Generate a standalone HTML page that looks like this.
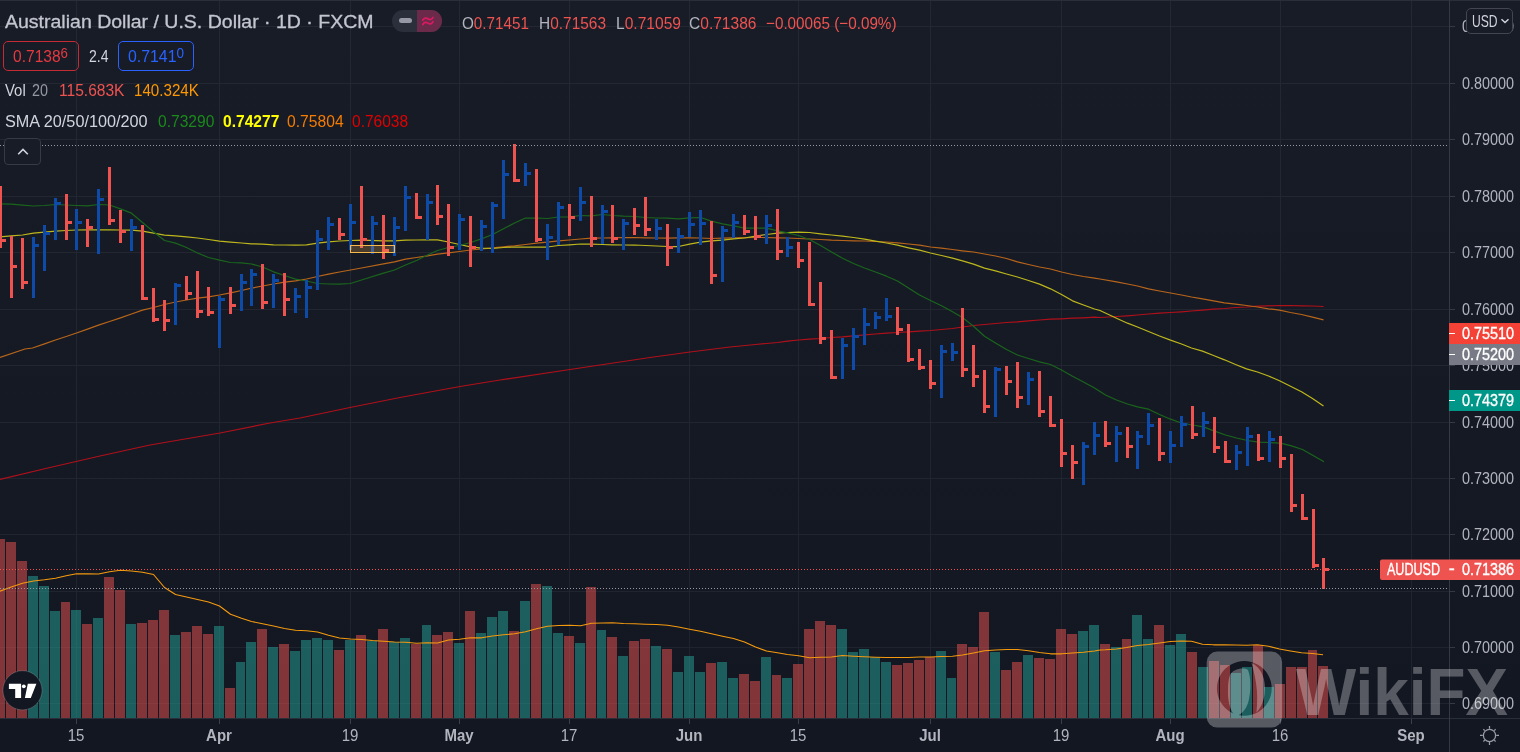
<!DOCTYPE html>
<html><head><meta charset="utf-8"><title>AUDUSD chart</title>
<style>
html,body{margin:0;padding:0;background:#131722;}
body{width:1520px;height:752px;overflow:hidden;position:relative;font-family:"Liberation Sans",sans-serif;}
#chart{position:absolute;left:0;top:0;width:1520px;height:752px;display:block}
.t{position:absolute;white-space:nowrap;line-height:1;transform-origin:0 0;}
</style></head><body>

<svg id="chart" width="1520" height="752" viewBox="0 0 1520 752">
<defs>
<linearGradient id="bg" x1="0" y1="0" x2="0" y2="1"><stop offset="0" stop-color="#181c27"/><stop offset="1" stop-color="#131722"/></linearGradient>
<clipPath id="pane"><rect x="0" y="0" width="1449" height="718"/></clipPath>
</defs>
<rect x="0" y="0" width="1520" height="718" fill="url(#bg)"/>
<rect x="0" y="718" width="1520" height="34" fill="#131722"/>
<path d="M0 26.5H1449M0 83.5H1449M0 139.5H1449M0 196.5H1449M0 252.5H1449M0 309.5H1449M0 365.5H1449M0 422.5H1449M0 478.5H1449M0 534.5H1449M0 591.5H1449M0 647.5H1449M0 703.5H1449M76.5 0V723M219.5 0V723M350.5 0V723M459.5 0V723M569.5 0V723M689.5 0V723M798.5 0V723M930.5 0V723M1061.5 0V723M1170.5 0V723M1280.5 0V723M1411.5 0V723" stroke="rgba(240,243,250,0.06)" stroke-width="1" fill="none" shape-rendering="crispEdges"/>
<path d="M76.5 718V724M219.5 718V724M350.5 718V724M459.5 718V724M569.5 718V724M689.5 718V724M798.5 718V724M930.5 718V724M1061.5 718V724M1170.5 718V724M1280.5 718V724M1411.5 718V724" stroke="#3a3e4a" stroke-width="1" fill="none" shape-rendering="crispEdges"/>
<path d="M0 0.5H1520M0 718.5H1520" stroke="#2a2e39" stroke-width="1" fill="none" shape-rendering="crispEdges"/>
<path d="M1449.5 0V752M1450 26.5H1455M1450 83.5H1455M1450 139.5H1455M1450 196.5H1455M1450 252.5H1455M1450 309.5H1455M1450 365.5H1455M1450 422.5H1455M1450 478.5H1455M1450 534.5H1455M1450 591.5H1455M1450 647.5H1455M1450 703.5H1455" stroke="#353945" stroke-width="1" fill="none" shape-rendering="crispEdges"/>
<g clip-path="url(#pane)">
<path d="M-5 539H5V718H-5ZM6 542H16V718H6ZM17 561H27V718H17ZM61 602H70V718H61ZM82 624H92V718H82ZM104 577H114V718H104ZM115 590H125V718H115ZM137 623H147V718H137ZM148 620H158V718H148ZM159 610H169V718H159ZM181 632H191V718H181ZM192 626H202V718H192ZM203 634H213V718H203ZM225 688H235V718H225ZM257 629H267V718H257ZM279 644H289V718H279ZM334 650H344V718H334ZM356 635H366V718H356ZM378 629H388V718H378ZM411 644H421V718H411ZM432 635H442V718H432ZM443 632H453V718H443ZM465 611H475V718H465ZM509 631H519V718H509ZM531 584H541V718H531ZM564 636H574V718H564ZM586 587H596V718H586ZM607 637H617V718H607ZM629 641H639V718H629ZM640 639H650V718H640ZM662 649H672V718H662ZM706 663H716V718H706ZM739 674H749V718H739ZM750 681H760V718H750ZM772 675H781V718H772ZM793 664H803V718H793ZM804 629H814V718H804ZM815 621H825V718H815ZM826 625H836V718H826ZM892 665H902V718H892ZM903 663H913V718H903ZM914 660H924V718H914ZM925 657H935V718H925ZM957 644H967V718H957ZM968 647H978V718H968ZM979 612H989V718H979ZM1001 670H1011V718H1001ZM1012 662H1022V718H1012ZM1034 658H1044V718H1034ZM1045 659H1055V718H1045ZM1056 629H1066V718H1056ZM1067 634H1077V718H1067ZM1100 644H1110V718H1100ZM1122 639H1131V718H1122ZM1154 625H1164V718H1154ZM1187 652H1197V718H1187ZM1209 661H1219V718H1209ZM1220 665H1230V718H1220ZM1253 645H1263V718H1253ZM1275 684H1285V718H1275ZM1286 667H1296V718H1286ZM1297 667H1307V718H1297ZM1308 650H1317V718H1308ZM1318 666H1328V718H1318Z" fill="rgba(239,83,80,0.5)" shape-rendering="crispEdges"/>
<path d="M28 576H38V718H28ZM39 586H49V718H39ZM50 611H60V718H50ZM71 610H81V718H71ZM93 618H103V718H93ZM126 624H136V718H126ZM170 635H180V718H170ZM214 626H224V718H214ZM236 662H245V718H236ZM246 642H256V718H246ZM268 647H278V718H268ZM290 651H300V718H290ZM301 640H311V718H301ZM312 638H322V718H312ZM323 640H333V718H323ZM345 640H355V718H345ZM367 641H377V718H367ZM389 642H399V718H389ZM400 638H410V718H400ZM422 625H431V718H422ZM454 643H464V718H454ZM476 633H486V718H476ZM487 617H497V718H487ZM498 611H508V718H498ZM520 601H530V718H520ZM542 586H552V718H542ZM553 633H563V718H553ZM575 643H585V718H575ZM597 630H606V718H597ZM618 656H628V718H618ZM651 646H661V718H651ZM673 672H683V718H673ZM684 656H694V718H684ZM695 672H705V718H695ZM717 662H727V718H717ZM728 678H738V718H728ZM761 657H771V718H761ZM782 678H792V718H782ZM837 629H847V718H837ZM848 652H858V718H848ZM859 649H869V718H859ZM870 657H880V718H870ZM881 662H891V718H881ZM936 651H946V718H936ZM947 678H956V718H947ZM990 652H1000V718H990ZM1023 655H1033V718H1023ZM1078 631H1088V718H1078ZM1089 625H1099V718H1089ZM1111 647H1121V718H1111ZM1132 615H1142V718H1132ZM1143 639H1153V718H1143ZM1165 645H1175V718H1165ZM1176 634H1186V718H1176ZM1198 667H1208V718H1198ZM1231 673H1241V718H1231ZM1242 667H1252V718H1242ZM1264 687H1274V718H1264Z" fill="rgba(38,166,154,0.5)" shape-rendering="crispEdges"/>
<path d="M0.0 591.2L11.2 587.0L22.5 583.2L33.5 581.0L44.5 579.8L55.5 578.2L66.2 575.8L76.5 573.8L87.5 573.8L98.5 574.0L109.5 571.8L120.5 570.2L131.5 571.0L142.5 572.2L153.5 574.5L164.5 587.5L175.5 594.5L186.5 597.0L197.5 599.5L208.5 602.0L219.5 606.0L230.5 614.2L241.5 618.2L251.5 621.5L262.5 623.8L273.5 626.0L284.5 628.5L295.5 630.2L306.5 630.8L317.5 632.0L328.5 635.2L339.5 638.0L350.5 639.0L361.5 639.5L372.5 640.5L383.5 641.2L394.5 642.0L405.5 642.2L416.5 643.2L427.5 642.8L437.5 643.0L448.5 640.0L459.5 639.2L470.5 637.8L481.5 637.8L492.5 636.0L503.5 634.8L514.5 633.8L525.5 631.8L536.5 628.8L547.5 626.2L558.5 625.5L569.5 625.2L580.5 625.8L591.5 623.2L602.5 623.0L612.5 622.8L623.5 623.5L634.5 623.8L645.5 624.2L656.5 624.5L667.5 625.2L678.5 627.0L689.5 629.2L700.5 631.2L711.5 633.8L722.5 636.2L733.5 638.5L744.5 642.0L755.5 647.0L766.5 651.0L777.5 652.8L787.5 654.5L798.5 655.8L809.5 657.8L820.5 657.2L831.5 657.0L842.5 655.5L853.5 656.2L864.5 656.8L875.5 657.2L886.5 657.5L897.5 657.5L908.5 657.5L919.5 657.0L930.5 657.0L941.5 656.5L952.5 656.2L962.5 655.0L973.5 653.0L984.5 650.8L995.5 650.0L1006.5 649.5L1017.5 649.5L1028.5 650.8L1039.5 652.5L1050.5 653.8L1061.5 653.8L1072.5 653.0L1083.5 652.2L1094.5 651.0L1100.0 650.0L1105.5 649.8L1116.5 649.0L1126.5 647.5L1137.5 645.5L1148.5 644.5L1159.5 643.0L1170.5 641.5L1181.5 641.0L1191.5 641.2L1202.5 644.2L1213.5 644.8L1224.5 644.8L1235.5 645.0L1246.5 645.2L1257.5 644.8L1268.5 646.2L1279.5 649.0L1290.5 651.0L1301.5 652.8L1312.5 653.5L1323.0 654.8" stroke="#f59a0e" stroke-width="1.15" fill="none" stroke-linejoin="round"/>
<path d="M0.0 479.5L50.0 467.5L100.0 456.0L150.0 445.0L220.0 433.0L270.0 423.0L300.0 418.0L350.0 407.5L400.0 397.5L460.0 386.5L500.0 380.0L570.0 369.5L600.0 365.0L650.0 357.5L690.0 352.0L730.0 347.0L755.5 344.5L766.5 343.5L777.5 342.5L787.5 341.2L798.5 340.0L809.5 339.2L820.5 338.5L831.5 337.5L842.5 336.8L853.5 335.8L864.5 334.8L875.5 334.0L886.5 333.2L897.5 332.5L908.5 331.8L919.5 331.2L930.5 330.5L941.5 329.5L952.5 328.5L962.5 327.0L973.5 325.5L984.5 324.5L995.5 323.5L1006.5 322.5L1017.5 321.8L1028.5 320.8L1039.5 320.0L1050.5 319.2L1061.5 318.8L1072.5 318.2L1083.5 317.8L1094.5 317.2L1100.0 317.5L1116.5 316.5L1127.5 315.8L1137.5 315.0L1148.5 314.0L1159.5 313.2L1170.5 312.5L1181.5 311.8L1191.5 311.0L1202.5 310.2L1213.5 309.2L1224.5 308.5L1235.5 307.5L1246.5 307.0L1257.5 306.2L1268.5 305.8L1279.5 305.5L1290.5 305.5L1301.5 305.8L1312.5 306.0L1323.5 306.5" stroke="#b0101a" stroke-width="1.25" fill="none" stroke-linejoin="round"/>
<path d="M0.0 357.5L25.0 349.0L32.5 348.0L44.5 343.8L55.5 340.0L66.2 336.5L76.5 333.0L87.5 329.2L98.5 325.2L109.5 321.5L120.5 317.8L131.5 314.0L142.5 310.2L153.5 307.5L164.5 304.5L175.5 302.0L186.5 300.0L197.5 298.2L208.5 296.8L219.5 295.0L230.5 292.8L241.5 290.5L251.5 288.2L262.5 286.0L273.5 284.0L284.5 282.2L295.5 280.8L306.5 279.0L317.5 276.5L328.5 274.2L339.5 272.0L350.5 270.0L361.5 268.0L383.5 263.8L394.5 261.8L405.5 259.2L416.5 257.5L427.5 255.8L437.5 254.2L448.5 252.8L459.5 251.5L470.5 250.0L481.5 249.0L492.5 247.8L503.5 246.8L514.5 245.8L525.5 244.5L536.5 243.2L547.5 242.2L558.5 240.8L569.5 240.0L580.5 239.0L591.5 238.2L602.5 238.0L612.5 237.8L623.5 237.5L634.5 237.5L645.5 237.8L656.5 238.0L667.5 238.0L678.5 237.8L689.5 237.8L700.5 238.0L711.5 238.5L722.5 238.2L733.5 237.8L755.5 237.5L766.5 237.5L777.5 237.8L787.5 238.0L798.5 238.5L809.5 239.0L820.5 239.5L831.5 240.2L842.5 240.5L853.5 240.8L864.5 241.0L875.5 241.5L886.5 242.0L897.5 242.8L908.5 244.0L919.5 245.2L930.5 247.0L941.5 248.2L952.5 249.5L962.5 250.8L973.5 252.0L984.5 254.0L995.5 256.0L1006.5 258.5L1017.5 261.8L1028.5 264.5L1039.5 267.0L1050.5 269.0L1061.5 272.0L1072.5 274.5L1083.5 276.5L1094.5 278.2L1100.0 279.0L1116.5 281.8L1127.5 284.0L1137.5 286.0L1148.5 288.8L1159.5 291.0L1170.5 293.0L1181.5 295.0L1191.5 297.0L1202.5 298.8L1213.5 300.8L1224.5 302.8L1235.5 304.2L1246.5 305.5L1257.5 307.0L1268.5 308.8L1279.5 310.2L1290.5 312.5L1301.5 314.5L1312.5 317.2L1323.5 319.8" stroke="#b8651a" stroke-width="1.25" fill="none" stroke-linejoin="round"/>
<path d="M0.0 237.0L11.2 235.8L22.5 235.0L33.5 233.2L44.5 232.2L55.5 231.2L66.2 230.5L76.5 230.0L87.5 229.8L98.5 229.8L109.5 229.8L120.5 230.0L131.5 230.2L142.5 231.2L153.5 233.2L164.5 235.2L175.5 235.8L186.5 236.8L197.5 238.0L208.5 239.5L219.5 241.2L230.5 242.2L241.5 243.0L251.5 243.8L262.5 244.2L273.5 244.8L284.5 245.0L295.5 245.0L306.5 244.8L317.5 243.2L328.5 241.8L339.5 241.0L350.5 240.5L361.5 240.2L383.5 240.8L394.5 240.8L405.5 240.2L416.5 240.0L427.5 239.8L437.5 239.8L448.5 242.0L459.5 244.5L470.5 246.8L481.5 248.2L492.5 248.5L503.5 247.5L514.5 247.0L525.5 247.0L536.5 247.0L547.5 247.0L558.5 245.5L569.5 244.8L580.5 244.0L591.5 244.2L602.5 244.5L612.5 244.8L623.5 245.0L634.5 245.0L645.5 245.5L656.5 246.0L667.5 246.5L678.5 246.5L689.5 244.2L700.5 242.2L711.5 240.8L722.5 240.2L733.5 238.8L744.5 238.0L755.5 236.2L766.5 234.5L777.5 233.2L787.5 232.5L798.5 232.2L809.5 232.5L820.5 233.8L831.5 235.0L842.5 236.2L853.5 237.5L864.5 239.2L875.5 241.2L886.5 243.0L897.5 245.2L908.5 247.8L919.5 250.2L930.5 253.0L941.5 255.5L952.5 258.2L962.5 260.8L973.5 264.2L984.5 268.2L995.5 270.8L1006.5 274.0L1017.5 277.0L1028.5 280.5L1039.5 284.2L1050.5 288.8L1061.5 294.5L1072.5 300.8L1083.5 305.0L1094.5 309.0L1100.0 310.5L1116.5 318.2L1127.5 323.2L1137.5 327.0L1148.5 331.5L1159.5 336.0L1170.5 340.2L1181.5 344.0L1191.5 348.0L1202.5 351.2L1213.5 355.5L1224.5 359.8L1235.5 364.5L1246.5 368.8L1257.5 372.0L1268.5 376.0L1279.5 380.8L1290.5 386.2L1301.5 391.8L1312.5 398.5L1323.5 406.0" stroke="#bdb71c" stroke-width="1.25" fill="none" stroke-linejoin="round"/>
<path d="M0.0 203.8L11.2 204.2L22.5 205.2L33.5 206.0L44.5 205.5L55.5 204.5L66.2 205.0L76.5 205.5L87.5 205.8L98.5 204.5L109.5 205.0L120.5 208.8L131.5 213.2L142.5 222.5L153.5 231.8L164.5 240.5L175.5 243.2L186.5 247.5L197.5 253.0L208.5 257.5L219.5 260.2L230.5 262.5L241.5 262.8L251.5 264.0L262.5 267.0L273.5 271.8L284.5 275.5L295.5 279.2L306.5 281.0L317.5 283.5L328.5 284.0L339.5 284.2L350.5 283.5L361.5 280.0L383.5 273.2L394.5 270.0L405.5 265.0L416.5 260.5L427.5 255.0L437.5 250.5L448.5 247.5L459.5 245.5L470.5 242.5L481.5 238.8L492.5 234.5L503.5 228.8L514.5 223.0L525.5 218.0L536.5 218.0L547.5 218.5L558.5 217.0L569.5 216.8L580.5 215.5L591.5 215.8L602.5 214.5L612.5 215.5L623.5 216.2L634.5 216.5L645.5 217.5L656.5 218.0L667.5 218.2L678.5 218.8L689.5 217.8L700.5 217.5L711.5 221.2L722.5 223.8L733.5 225.8L744.5 228.2L755.5 228.0L766.5 228.2L777.5 230.8L787.5 232.8L798.5 235.5L809.5 239.5L820.5 245.5L831.5 252.0L842.5 258.2L853.5 263.5L864.5 268.0L875.5 272.0L886.5 276.2L897.5 281.0L908.5 288.0L919.5 295.0L930.5 300.5L941.5 305.8L952.5 311.8L962.5 317.5L973.5 326.2L984.5 336.2L995.5 343.0L1006.5 349.5L1017.5 355.0L1028.5 358.5L1039.5 361.8L1050.5 364.5L1061.5 370.0L1072.5 376.2L1083.5 382.0L1094.5 388.0L1105.5 395.0L1116.5 400.0L1127.5 404.0L1137.5 406.8L1148.5 409.2L1159.5 414.5L1170.5 419.2L1181.5 423.0L1192.5 425.0L1203.5 426.8L1214.5 431.2L1225.5 435.0L1236.5 438.0L1247.5 440.5L1258.5 442.2L1269.5 442.5L1280.5 443.2L1291.5 445.8L1302.5 449.5L1313.5 455.8L1324.0 461.8" stroke="#1a651c" stroke-width="1.25" fill="none" stroke-linejoin="round"/>
<path d="M32 237h3V298h-3ZM35 244h4v3h-4ZM43 225h3V271h-3ZM46 232h4v3h-4ZM54 198h3V240h-3ZM57 202h4v3h-4ZM75 209h3V250h-3ZM78 221h4v3h-4ZM97 189h3V254h-3ZM100 198h4v3h-4ZM130 219h3V251h-3ZM133 226h4v3h-4ZM174 283h3V325h-3ZM177 284h4v3h-4ZM218 296h3V348h-3ZM221 298h4v3h-4ZM240 274h3V311h-3ZM243 281h4v3h-4ZM250 269h3V306h-3ZM253 273h4v3h-4ZM272 274h3V308h-3ZM275 279h4v3h-4ZM294 288h3V313h-3ZM297 295h4v3h-4ZM305 280h3V318h-3ZM308 286h4v3h-4ZM316 230h3V290h-3ZM319 238h4v3h-4ZM327 217h3V250h-3ZM330 223h4v3h-4ZM349 204h3V250h-3ZM352 221h4v3h-4ZM371 216h3V254h-3ZM374 222h4v3h-4ZM393 217h3V256h-3ZM396 226h4v3h-4ZM404 186h3V231h-3ZM407 196h4v3h-4ZM426 194h3V240h-3ZM429 201h4v3h-4ZM458 214h3V250h-3ZM461 218h4v3h-4ZM480 220h3V251h-3ZM483 225h4v3h-4ZM491 202h3V253h-3ZM494 204h4v3h-4ZM502 160h3V219h-3ZM505 173h4v3h-4ZM524 163h3V186h-3ZM527 172h4v3h-4ZM546 224h3V260h-3ZM549 236h4v3h-4ZM557 202h3V245h-3ZM560 206h4v3h-4ZM579 187h3V221h-3ZM582 201h4v3h-4ZM601 205h3V244h-3ZM604 210h4v3h-4ZM622 219h3V250h-3ZM625 222h4v3h-4ZM655 219h3V240h-3ZM658 227h4v3h-4ZM677 228h3V253h-3ZM680 235h4v3h-4ZM688 212h3V237h-3ZM691 223h4v3h-4ZM699 210h3V245h-3ZM702 222h4v3h-4ZM721 226h3V282h-3ZM724 229h4v3h-4ZM732 214h3V238h-3ZM735 221h4v3h-4ZM765 215h3V244h-3ZM768 224h4v3h-4ZM786 237h3V257h-3ZM789 246h4v3h-4ZM841 338h3V379h-3ZM844 344h4v3h-4ZM852 328h3V370h-3ZM855 335h4v3h-4ZM863 308h3V345h-3ZM866 323h4v3h-4ZM874 312h3V329h-3ZM877 316h4v3h-4ZM885 298h3V321h-3ZM888 315h4v3h-4ZM940 345h3V398h-3ZM943 350h4v3h-4ZM951 343h3V361h-3ZM954 351h4v3h-4ZM994 367h3V417h-3ZM997 368h4v3h-4ZM1027 372h3V405h-3ZM1030 378h4v3h-4ZM1082 442h3V485h-3ZM1085 445h4v3h-4ZM1093 422h3V455h-3ZM1096 434h4v3h-4ZM1115 426h3V462h-3ZM1118 432h4v3h-4ZM1136 431h3V469h-3ZM1139 435h4v3h-4ZM1147 413h3V445h-3ZM1150 424h4v3h-4ZM1169 431h3V463h-3ZM1172 444h4v3h-4ZM1180 416h3V447h-3ZM1183 423h4v3h-4ZM1202 412h3V437h-3ZM1205 421h4v3h-4ZM1235 445h3V470h-3ZM1238 451h4v3h-4ZM1246 427h3V466h-3ZM1249 435h4v3h-4ZM1268 431h3V462h-3ZM1271 438h4v3h-4Z" fill="#0e4ba9" shape-rendering="crispEdges"/>
<path d="M-1 186h3V248h-3ZM2 239h4v3h-4ZM10 236h3V298h-3ZM13 265h4v3h-4ZM21 238h3V289h-3ZM24 281h4v3h-4ZM65 194h3V240h-3ZM68 221h4v3h-4ZM86 219h3V247h-3ZM89 226h4v3h-4ZM108 167h3V225h-3ZM111 219h4v3h-4ZM119 210h3V243h-3ZM122 230h4v3h-4ZM141 225h3V300h-3ZM144 297h4v3h-4ZM152 288h3V322h-3ZM155 318h4v3h-4ZM163 300h3V331h-3ZM166 319h4v3h-4ZM185 276h3V300h-3ZM188 292h4v3h-4ZM196 271h3V318h-3ZM199 310h4v3h-4ZM207 287h3V316h-3ZM210 311h4v3h-4ZM229 287h3V314h-3ZM232 304h4v3h-4ZM261 264h3V309h-3ZM264 301h4v3h-4ZM283 273h3V316h-3ZM286 298h4v3h-4ZM338 218h3V240h-3ZM341 233h4v3h-4ZM360 186h3V248h-3ZM363 238h4v3h-4ZM382 215h3V259h-3ZM385 249h4v3h-4ZM415 193h3V219h-3ZM418 216h4v3h-4ZM436 185h3V225h-3ZM439 215h4v3h-4ZM447 204h3V256h-3ZM450 246h4v3h-4ZM469 216h3V267h-3ZM472 246h4v3h-4ZM513 144h3V182h-3ZM516 179h4v3h-4ZM535 169h3V242h-3ZM538 238h4v3h-4ZM568 204h3V236h-3ZM571 216h4v3h-4ZM590 196h3V247h-3ZM593 237h4v3h-4ZM611 205h3V243h-3ZM614 237h4v3h-4ZM633 208h3V235h-3ZM636 224h4v3h-4ZM644 197h3V236h-3ZM647 228h4v3h-4ZM666 224h3V266h-3ZM669 246h4v3h-4ZM710 221h3V284h-3ZM713 274h4v3h-4ZM743 215h3V235h-3ZM746 230h4v3h-4ZM754 216h3V240h-3ZM757 235h4v3h-4ZM776 209h3V260h-3ZM779 250h4v3h-4ZM797 242h3V268h-3ZM800 259h4v3h-4ZM808 242h3V306h-3ZM811 303h4v3h-4ZM819 282h3V344h-3ZM822 337h4v3h-4ZM830 330h3V379h-3ZM833 376h4v3h-4ZM896 307h3V335h-3ZM899 328h4v3h-4ZM907 324h3V362h-3ZM910 358h4v3h-4ZM918 349h3V370h-3ZM921 366h4v3h-4ZM929 360h3V389h-3ZM932 382h4v3h-4ZM961 308h3V377h-3ZM964 368h4v3h-4ZM972 345h3V387h-3ZM975 375h4v3h-4ZM983 370h3V413h-3ZM986 405h4v3h-4ZM1005 366h3V395h-3ZM1008 380h4v3h-4ZM1016 362h3V408h-3ZM1019 396h4v3h-4ZM1038 371h3V417h-3ZM1041 410h4v3h-4ZM1049 396h3V427h-3ZM1052 424h4v3h-4ZM1060 419h3V467h-3ZM1063 452h4v3h-4ZM1071 445h3V479h-3ZM1074 461h4v3h-4ZM1104 421h3V447h-3ZM1107 442h4v3h-4ZM1126 427h3V458h-3ZM1129 445h4v3h-4ZM1158 418h3V461h-3ZM1161 452h4v3h-4ZM1191 406h3V439h-3ZM1194 433h4v3h-4ZM1213 417h3V453h-3ZM1216 446h4v3h-4ZM1224 441h3V463h-3ZM1227 460h4v3h-4ZM1257 434h3V461h-3ZM1260 457h4v3h-4ZM1279 436h3V468h-3ZM1282 457h4v3h-4ZM1290 454h3V512h-3ZM1293 504h4v3h-4ZM1301 494h3V520h-3ZM1304 517h4v3h-4ZM1312 509h3V568h-3ZM1315 564h4v3h-4ZM1322 558h3V589h-3ZM1325 568h4v3h-4Z" fill="#ef5350" shape-rendering="crispEdges"/>
<rect x="350.5" y="245.5" width="44" height="7" fill="rgba(255,183,77,0.22)" stroke="#f7b84d" stroke-width="1"/>
<path d="M0 145.5H1450" stroke="#9598a1" stroke-width="1" stroke-dasharray="1 2" fill="none" shape-rendering="crispEdges"/>
<path d="M0 588.5H1450" stroke="#9598a1" stroke-width="1" stroke-dasharray="1 2" fill="none" shape-rendering="crispEdges"/>
<path d="M0 569.5H1449" stroke="#ef5350" stroke-width="1" stroke-dasharray="1 2" fill="none" shape-rendering="crispEdges"/>
</g>
<circle cx="22.5" cy="690.3" r="19.6" fill="#131722" stroke="rgba(255,255,255,0.18)" stroke-width="1"/>
<path d="M8.9 683.8H21.1V697.9H15.2V688.9H8.9ZM27.8 683.8H36.4L30.8 697.9H24.9Z" fill="#fff"/><circle cx="23.8" cy="686.3" r="1.9" fill="#fff"/>
<g transform="translate(1489.5 735.4)" fill="none" stroke="#9a9da7" stroke-width="1.25"><circle r="6.1"/><path d="M0 -6.7V-9.5M0 6.7V9.5M-6.7 0H-9.5M6.7 0H9.5M4.75 -4.75L6.1 -6.1M-4.75 -4.75L-6.1 -6.1M4.75 4.75L6.1 6.1M-4.75 4.75L-6.1 6.1"/></g>
<g opacity="0.29" fill="#fff"><path fill-rule="evenodd" d="M1217.2 651.6H1271.6a10.5 10.5 0 0 1 10.5 10.5V717.1a10.5 10.5 0 0 1 -10.5 10.5H1217.2a10.5 10.5 0 0 1 -10.5 -10.5V662.1a10.5 10.5 0 0 1 10.5 -10.5ZM1244.3 661a27.4 27.4 0 1 0 0.01 0Z"/><path d="M1230 675C1233 669 1243 667 1248 670C1251 678 1251 689 1249 699C1247.5 707 1243 714 1236 716.5C1230 712 1227.5 700 1228 690C1228 684 1228.5 679 1230 675Z"/><path d="M1251.5 663C1261 667 1267 680 1264.5 695C1263 703 1260 709 1256.5 712.5C1257.5 702 1257.5 692 1256 683C1255 676 1253.5 670 1251.5 663Z"/></g>
</svg>
<div id="txt" style="position:absolute;left:0;top:0;width:1520px;height:752px;will-change:transform;">
<div class="t" style="transform:scaleX(1.0437);left:4.5px;top:13.0px;font-size:18.7px;color:#c3c6cf;-webkit-text-stroke:0.3px #c3c6cf;">Australian Dollar / U.S. Dollar &middot; 1D &middot; FXCM</div>
<div style="position:absolute;left:392px;top:10px;width:50px;height:22px;border-radius:11px;overflow:hidden;background:#2b2f3b"><div style="position:absolute;left:25px;top:0;width:25px;height:22px;background:#6c2a4b"></div><div style="position:absolute;left:7px;top:8.2px;width:13px;height:5px;border-radius:2.5px;background:#9699a5"></div></div>
<svg style="position:absolute;left:420px;top:14px" width="16" height="14" viewBox="420 14 16 14"><path d="M422.8 20.2C424.3 17.6 426.2 17.6 428 18.8C429.8 20 431.6 20 433 17.4M422.8 24.5C424.3 21.9 426.2 21.9 428 23.1C429.8 24.3 431.6 24.3 433 21.7" stroke="#dc1a62" stroke-width="1.7" fill="none" stroke-linecap="round"/></svg>
<div class="t" style="transform:scaleX(0.9087);left:462px;top:15.6px;font-size:16.8px;color:#ef5350"><span style="color:#b2b5be">O</span>0.71451</div>
<div class="t" style="transform:scaleX(0.9204);left:539px;top:15.6px;font-size:16.8px;color:#ef5350"><span style="color:#b2b5be">H</span>0.71563</div>
<div class="t" style="transform:scaleX(0.9284);left:616px;top:15.6px;font-size:16.8px;color:#ef5350"><span style="color:#b2b5be">L</span>0.71059</div>
<div class="t" style="transform:scaleX(0.9272);left:689px;top:15.6px;font-size:16.8px;color:#ef5350"><span style="color:#b2b5be">C</span>0.71386</div>
<div class="t" style="transform:scaleX(0.9082);left:766px;top:15.6px;font-size:16.8px;color:#ef5350;">&minus;0.00065 (&minus;0.09%)</div>
<div style="position:absolute;left:3px;top:41px;width:74px;height:28px;border:1.5px solid #c52b33;border-radius:5px;box-sizing:content-box"></div>
<div style="position:absolute;left:118px;top:41px;width:74px;height:28px;border:1.5px solid #2962ff;border-radius:5px;box-sizing:content-box"></div>
<div class="t" style="transform:scaleX(0.9278);left:13px;top:48.6px;font-size:16.8px;color:#e53a40">0.7138<span style="font-size:14.3px;position:relative;top:-3.2px">6</span></div>
<div class="t" style="transform:scaleX(0.8353);left:89px;top:48.6px;font-size:16.8px;color:#d1d4dc;">2.4</div>
<div class="t" style="transform:scaleX(0.9446);left:128px;top:48.6px;font-size:16.8px;color:#2962ff">0.7141<span style="font-size:14.3px;position:relative;top:-3.2px">0</span></div>
<div class="t" style="transform:scaleX(0.8873);left:5px;top:83.2px;font-size:16.8px;color:#d1d4dc;">Vol</div>
<div class="t" style="transform:scaleX(0.8569);left:31.8px;top:83.2px;font-size:16.8px;color:#9598a1;">20</div>
<div class="t" style="transform:scaleX(0.9276);left:59.4px;top:83.2px;font-size:16.8px;color:#ef5350;">115.683K</div>
<div class="t" style="transform:scaleX(0.9032);left:133.5px;top:83.2px;font-size:16.8px;color:#ff9800;">140.324K</div>
<div class="t" style="transform:scaleX(0.9673);left:5px;top:113.7px;font-size:16.8px;color:#d1d4dc;">SMA 20/50/100/200</div>
<div class="t" style="transform:scaleX(0.9296);left:158px;top:113.7px;font-size:16.8px;color:#1a8a1a;">0.73290</div>
<div class="t" style="transform:scaleX(0.9279);left:222.7px;top:113.7px;font-size:16.8px;color:#ffff00;font-weight:700;">0.74277</div>
<div class="t" style="transform:scaleX(0.9329);left:287.4px;top:113.7px;font-size:16.8px;color:#f57c00;">0.75804</div>
<div class="t" style="transform:scaleX(0.9246);left:352.3px;top:113.7px;font-size:16.8px;color:#e00000;">0.76038</div>
<div style="position:absolute;left:4px;top:138px;width:35px;height:25px;border:1px solid #363a45;border-radius:4px;background:#181c27"></div>
<svg style="position:absolute;left:16px;top:146px" width="14" height="11" viewBox="0 0 14 11"><path d="M2.2 8.3L7 3.5L11.8 8.3" stroke="#d1d4dc" stroke-width="1.6" fill="none"/></svg>
<div class="t" style="transform:scaleX(0.8478);left:1462.3px;top:17.9px;font-size:17px;color:#b2b5be;">0.81000</div>
<div class="t" style="transform:scaleX(0.8478);left:1462.3px;top:74.9px;font-size:17px;color:#b2b5be;">0.80000</div>
<div class="t" style="transform:scaleX(0.8478);left:1462.3px;top:130.9px;font-size:17px;color:#b2b5be;">0.79000</div>
<div class="t" style="transform:scaleX(0.8478);left:1462.3px;top:187.9px;font-size:17px;color:#b2b5be;">0.78000</div>
<div class="t" style="transform:scaleX(0.8478);left:1462.3px;top:243.9px;font-size:17px;color:#b2b5be;">0.77000</div>
<div class="t" style="transform:scaleX(0.8478);left:1462.3px;top:300.9px;font-size:17px;color:#b2b5be;">0.76000</div>
<div class="t" style="transform:scaleX(0.8478);left:1462.3px;top:356.9px;font-size:17px;color:#b2b5be;">0.75000</div>
<div class="t" style="transform:scaleX(0.8478);left:1462.3px;top:413.9px;font-size:17px;color:#b2b5be;">0.74000</div>
<div class="t" style="transform:scaleX(0.8478);left:1462.3px;top:469.9px;font-size:17px;color:#b2b5be;">0.73000</div>
<div class="t" style="transform:scaleX(0.8478);left:1462.3px;top:525.9px;font-size:17px;color:#b2b5be;">0.72000</div>
<div class="t" style="transform:scaleX(0.8478);left:1462.3px;top:582.9px;font-size:17px;color:#b2b5be;">0.71000</div>
<div class="t" style="transform:scaleX(0.8478);left:1462.3px;top:638.9px;font-size:17px;color:#b2b5be;">0.70000</div>
<div class="t" style="transform:scaleX(0.8478);left:1462.3px;top:694.9px;font-size:17px;color:#b2b5be;">0.69000</div>
</div>
<svg style="position:absolute;left:0;top:0" width="1520" height="752" viewBox="0 0 1520 752">
<rect x="1449" y="323" width="71" height="21" fill="#f44336"/>
<rect x="1449" y="344" width="71" height="21" fill="#787b86"/>
<rect x="1449" y="390" width="71" height="21" fill="#009688"/>
<path d="M1449 333.5h6M1449 354.5h6M1449 400.5h6" stroke="#fff" stroke-width="1" shape-rendering="crispEdges"/>
<path d="M1382 559.5H1520V580H1382a2 2 0 0 1-2-2V561.5a2 2 0 0 1 2-2Z" fill="#ef5350"/>
</svg>
<div id="txt2" style="position:absolute;left:0;top:0;width:1520px;height:752px;will-change:transform;">
<div class="t" style="transform:scaleX(0.8478);left:1462.3px;top:324.8px;font-size:17px;color:#fff;-webkit-text-stroke:0.35px #fff;">0.75510</div>
<div class="t" style="transform:scaleX(0.8478);left:1462.3px;top:345.8px;font-size:17px;color:#fff;-webkit-text-stroke:0.35px #fff;">0.75200</div>
<div class="t" style="transform:scaleX(0.8478);left:1462.3px;top:391.8px;font-size:17px;color:#fff;-webkit-text-stroke:0.35px #fff;">0.74379</div>
<div class="t" style="transform:scaleX(0.7382);left:1387px;top:560.9px;font-size:17px;color:#fff;-webkit-text-stroke:0.35px #fff;">AUDUSD</div>
<div class="t" style="transform:scaleX(0.5535);left:1449px;top:560.9px;font-size:17px;color:#fff;-webkit-text-stroke:0.35px #fff;">&minus;</div>
<div class="t" style="transform:scaleX(0.8478);left:1462.3px;top:560.9px;font-size:17px;color:#fff;-webkit-text-stroke:0.35px #fff;">0.71386</div>
<div style="position:absolute;left:1466px;top:8px;width:45px;height:24px;border:1px solid #434651;border-radius:5px;background:#181c27"></div>
<div class="t" style="transform:scaleX(0.7347);left:1472.2px;top:12.9px;font-size:16.5px;color:#d1d4dc;">USD</div>
<svg style="position:absolute;left:1500px;top:17px" width="10" height="8" viewBox="0 0 10 8"><path d="M1.5 2.2L5 5.5L8.5 2.2" stroke="#d1d4dc" stroke-width="1.5" fill="none"/></svg>
<div class="t c" style="left:45.75px;width:60px;text-align:center;top:727.2px;font-size:16.5px;transform:scaleX(0.909);transform-origin:50% 0;color:#b2b5be;">15</div>
<div class="t c" style="left:188.75px;width:60px;text-align:center;top:727.2px;font-size:16.5px;transform:scaleX(0.909);transform-origin:50% 0;color:#b2b5be;font-weight:700;">Apr</div>
<div class="t c" style="left:319.75px;width:60px;text-align:center;top:727.2px;font-size:16.5px;transform:scaleX(0.909);transform-origin:50% 0;color:#b2b5be;">19</div>
<div class="t c" style="left:428.75px;width:60px;text-align:center;top:727.2px;font-size:16.5px;transform:scaleX(0.909);transform-origin:50% 0;color:#b2b5be;font-weight:700;">May</div>
<div class="t c" style="left:538.75px;width:60px;text-align:center;top:727.2px;font-size:16.5px;transform:scaleX(0.909);transform-origin:50% 0;color:#b2b5be;">17</div>
<div class="t c" style="left:658.75px;width:60px;text-align:center;top:727.2px;font-size:16.5px;transform:scaleX(0.909);transform-origin:50% 0;color:#b2b5be;font-weight:700;">Jun</div>
<div class="t c" style="left:767.75px;width:60px;text-align:center;top:727.2px;font-size:16.5px;transform:scaleX(0.909);transform-origin:50% 0;color:#b2b5be;">15</div>
<div class="t c" style="left:899.75px;width:60px;text-align:center;top:727.2px;font-size:16.5px;transform:scaleX(0.909);transform-origin:50% 0;color:#b2b5be;font-weight:700;">Jul</div>
<div class="t c" style="left:1030.75px;width:60px;text-align:center;top:727.2px;font-size:16.5px;transform:scaleX(0.909);transform-origin:50% 0;color:#b2b5be;">19</div>
<div class="t c" style="left:1139.75px;width:60px;text-align:center;top:727.2px;font-size:16.5px;transform:scaleX(0.909);transform-origin:50% 0;color:#b2b5be;font-weight:700;">Aug</div>
<div class="t c" style="left:1249.75px;width:60px;text-align:center;top:727.2px;font-size:16.5px;transform:scaleX(0.909);transform-origin:50% 0;color:#b2b5be;">16</div>
<div class="t c" style="left:1380.75px;width:60px;text-align:center;top:727.2px;font-size:16.5px;transform:scaleX(0.909);transform-origin:50% 0;color:#b2b5be;font-weight:700;">Sep</div>
<div class="t" style="transform:scaleX(0.9661);left:1296px;top:658.5px;font-size:66px;font-weight:700;color:rgba(255,255,255,0.29)">WikiFX</div>
</div>
</body></html>
